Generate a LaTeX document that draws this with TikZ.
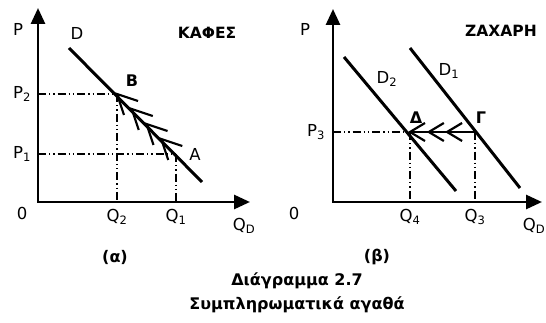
\documentclass[tikz,border=0pt]{standalone}
\usepackage{fontspec}
\setmainfont{DejaVu Sans}
\usetikzlibrary{arrows.meta,calc}
\begin{document}
\begin{tikzpicture}[x=1pt,y=-1pt,
 axis/.style={line width=2.8pt,line join=miter,{Triangle[length=16pt,width=14pt]}-{Triangle[length=16pt,width=14pt]}},
 curve/.style={line width=3pt},
 guide/.style={line width=1.3pt,dash pattern=on 8pt off 3pt on 1.3pt off 3pt on 1.3pt off 3pt},
 chev/.style={line width=2.2pt},
 lab/.style={font=\fontsize{16.5}{16.5}\selectfont,inner sep=0pt},
 blab/.style={font=\bfseries\fontsize{16}{16}\selectfont,inner sep=0pt},
 ttl/.style={font=\bfseries\fontsize{15.5}{15.5}\selectfont,inner sep=0pt},
 captext/.style={font=\bfseries\fontsize{16}{16}\selectfont,inner sep=0pt}]
\useasboundingbox (0,0) rectangle (546,323);

% ---------- panel (a) ----------
\coordinate (O1) at (38,202);
\coordinate (Y1) at (38,8);
\coordinate (X1) at (250,202);
\coordinate (Dtop) at (69,48);
\coordinate (Dbot) at (202,182);
\coordinate (B) at (117,94);
\coordinate (A) at (176,154);
\coordinate (P2) at (38,94);
\coordinate (P1) at (38,154);
\coordinate (Q2) at (117,202);
\coordinate (Q1) at (176,202);

\draw[guide] (P2) -- (B);
\draw[guide] (P1) -- (A);
\draw[guide] (B) -- (Q2);
\draw[guide] (A) -- (Q1);
\draw[axis] (Y1) -- (O1) -- (X1);
\draw[curve] (Dtop) -- (Dbot);
\foreach \f in {0,0.25,0.5,0.75}{
  \coordinate (t) at ($(B)!\f!(A)$);
  \draw[chev] (t) ++(21,7) -- (t) -- ++(7,21);
}

\node[lab] (lP1) at (18,29) {P};
\node[lab] (lD) at (77,33) {D};
\node[ttl] (lKafes) at (207,33) {ΚΑΦΕΣ};
\node[blab] (lB) at (132,81) {B};
\node[lab] (lP2) at (22,94) {P\textsubscript{2}};
\node[lab] (lP1b) at (22,154) {P\textsubscript{1}};
\node[lab] (lA) at (195,154) {A};
\node[lab] (lO1) at (22,213) {0};
\node[lab] (lQ2) at (117,217) {Q\textsubscript{2}};
\node[lab] (lQ1) at (176,217) {Q\textsubscript{1}};
\node[lab] (lQD1) at (244,226) {Q\textsubscript{D}};

% ---------- panel (b) ----------
\coordinate (O2) at (333,202);
\coordinate (Y2) at (333,9);
\coordinate (X2) at (542,202);
\coordinate (D2top) at (344,57);
\coordinate (D2bot) at (456,191);
\coordinate (D1top) at (410,48);
\coordinate (D1bot) at (520,188);
\coordinate (Dl) at (410,132);
\coordinate (G) at (475,132);
\coordinate (P3) at (333,132);
\coordinate (Q4) at (410,202);
\coordinate (Q3) at (475,202);

\draw[guide] (P3) -- (Dl);
\draw[guide] (Dl) -- (Q4);
\draw[guide] (G) -- (Q3);
\draw[axis] (Y2) -- (O2) -- (X2);
\draw[curve] (D2top) -- (D2bot);
\draw[curve] (D1top) -- (D1bot);
\draw[chev] (Dl) -- (G);
\foreach \f in {0,0.29,0.57}{
  \coordinate (t) at ($(Dl)!\f!(G)$);
  \draw[chev] (t) ++(15,-9) -- (t) -- ++(15,9);
}

\node[lab] (lP2b) at (305,29) {P};
\node[ttl] (lZach) at (501,31) {ΖΑΧΑΡΗ};
\node[lab] (lD1) at (449,71) {D\textsubscript{1}};
\node[lab] (lD2) at (387,79) {D\textsubscript{2}};
\node[blab] (lDelta) at (416,118) {Δ};
\node[blab] (lGamma) at (481,118) {Γ};
\node[lab] (lP3) at (316,132) {P\textsubscript{3}};
\node[lab] (lO2) at (294,213) {0};
\node[lab] (lQ4) at (410,217) {Q\textsubscript{4}};
\node[lab] (lQ3) at (475,217) {Q\textsubscript{3}};
\node[lab,anchor=east] (lQD2) at (545.5,226) {Q\textsubscript{D}};

% ---------- captions ----------
\node[captext] (ca) at (115,257) {(α)};
\node[captext] (cb) at (377,257) {(β)};
\node[captext] (c1) at (297,281) {Διάγραμμα 2.7};
\node[captext] (c2) at (297,305) {Συμπληρωματικά αγαθά};
\end{tikzpicture}
\end{document}
